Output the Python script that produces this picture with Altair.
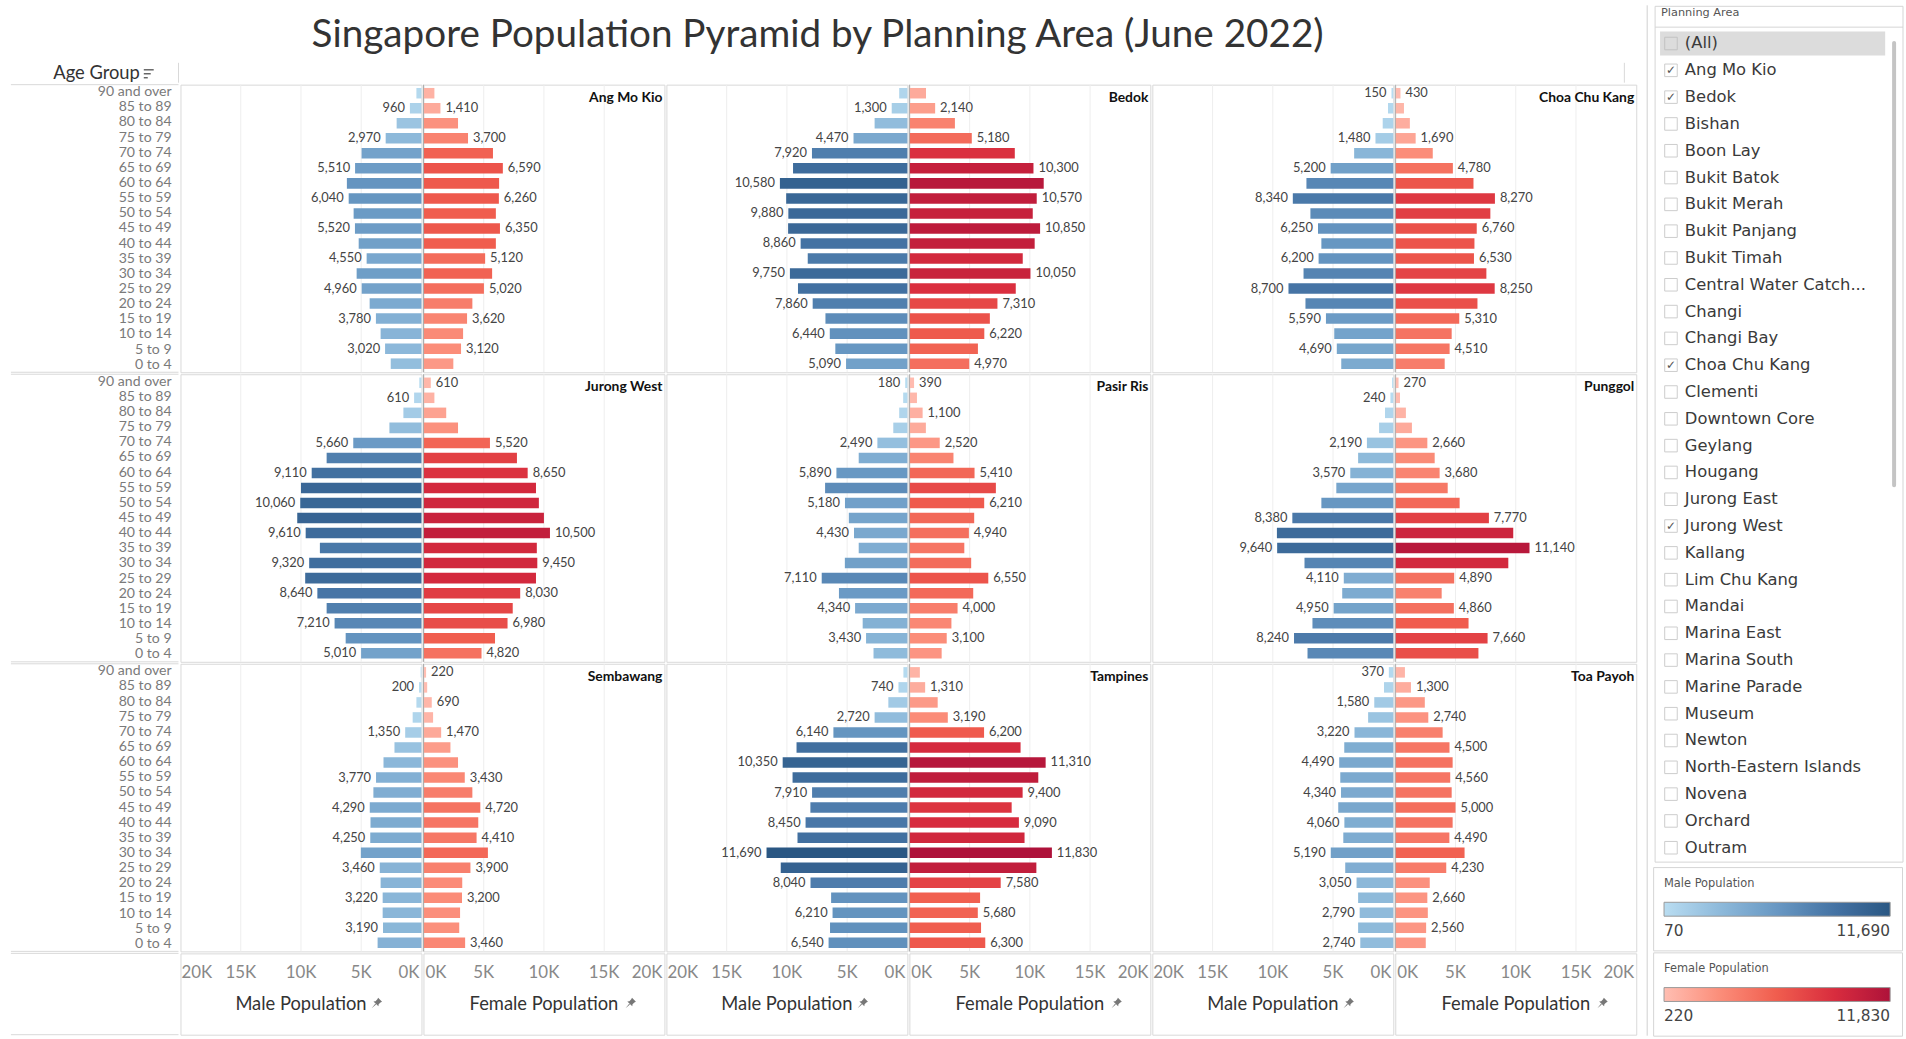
import altair as alt
import pandas as pd

TITLE = "Singapore Population Pyramid by Planning Area (June 2022)"

AGES = ["90 and over", "85 to 89", "80 to 84", "75 to 79", "70 to 74",
        "65 to 69", "60 to 64", "55 to 59", "50 to 54", "45 to 49",
        "40 to 44", "35 to 39", "30 to 34", "25 to 29", "20 to 24",
        "15 to 19", "10 to 14", "5 to 9", "0 to 4"]

AREAS = ["Ang Mo Kio", "Bedok", "Choa Chu Kang",
         "Jurong West", "Pasir Ris", "Punggol",
         "Sembawang", "Tampines", "Toa Payoh"]

# residents per age group, from "90 and over" down to "0 to 4"
ANG_MO_KIO_M = [420, 960, 2060, 2970, 4970, 5510, 6190, 6040, 5630, 5520, 5210, 4550, 5380, 4960, 4300, 3780, 3390, 3020, 2550]
ANG_MO_KIO_F = [910, 1410, 2870, 3700, 5770, 6590, 6280, 6260, 6010, 6350, 6010, 5120, 5700, 5020, 4060, 3620, 3290, 3120, 2480]
BEDOK_M = [680, 1300, 2720, 4470, 7920, 9490, 10580, 10060, 9880, 9900, 8860, 8270, 9750, 9080, 7860, 6800, 6440, 5980, 5090]
BEDOK_F = [1380, 2140, 3780, 5180, 8750, 10300, 11150, 10570, 10240, 10850, 10400, 9410, 10050, 8830, 7310, 6680, 6220, 5690, 4970]
CHOA_CHU_KANG_M = [150, 440, 880, 1480, 3250, 5200, 7210, 8340, 6880, 6250, 5970, 6200, 7450, 8700, 7290, 5590, 4900, 4690, 4320]
CHOA_CHU_KANG_F = [430, 720, 1210, 1690, 3110, 4780, 6490, 8270, 7890, 6760, 6570, 6530, 7560, 8250, 6820, 5310, 4680, 4510, 4100]
JURONG_WEST_M = [180, 610, 1500, 2660, 5660, 7870, 9110, 10000, 10060, 10310, 9610, 8430, 9320, 9650, 8640, 7870, 7210, 6290, 5010]
JURONG_WEST_F = [610, 910, 1890, 2870, 5520, 7760, 8650, 9340, 9580, 10000, 10500, 9410, 9450, 9340, 8030, 7410, 6980, 5940, 4820]
PASIR_RIS_M = [180, 350, 680, 1170, 2490, 4040, 5890, 6830, 5180, 4860, 4430, 4040, 5190, 7110, 5680, 4340, 3710, 3430, 2810]
PASIR_RIS_F = [390, 630, 1100, 1370, 2520, 3660, 5410, 7180, 6210, 5380, 4940, 4560, 5130, 6550, 5300, 4000, 3490, 3100, 2680]
PUNGGOL_M = [100, 240, 690, 1180, 2190, 2920, 3570, 4730, 5970, 8380, 9660, 9640, 7370, 4110, 4240, 4950, 6710, 8240, 7120]
PUNGGOL_F = [270, 390, 880, 1380, 2660, 3270, 3680, 4350, 5340, 7770, 9790, 11140, 9380, 4890, 3850, 4860, 6080, 7660, 6900]
SEMBAWANG_M = [70, 200, 420, 730, 1350, 2240, 3150, 3770, 3990, 4290, 4230, 4250, 5030, 3460, 3390, 3220, 3220, 3190, 3640]
SEMBAWANG_F = [220, 310, 690, 800, 1470, 2240, 2870, 3430, 4060, 4720, 4550, 4410, 5350, 3900, 3220, 3200, 3040, 2970, 3460]
TAMPINES_M = [330, 740, 1580, 2720, 6140, 9200, 10350, 9530, 7910, 8050, 8450, 9120, 11690, 10510, 8040, 6330, 6210, 6420, 6540]
TAMPINES_F = [870, 1310, 2350, 3190, 6200, 9230, 11310, 10700, 9400, 8490, 9090, 9560, 11830, 10540, 7580, 5870, 5680, 5950, 6300]
TOA_PAYOH_M = [370, 770, 1580, 2090, 3220, 4070, 4490, 4400, 4340, 4570, 4060, 4150, 5190, 3990, 3050, 2920, 2790, 2920, 2740]
TOA_PAYOH_F = [800, 1300, 2450, 2740, 3930, 4500, 4760, 4560, 4680, 5000, 4760, 4490, 5750, 4230, 2860, 2660, 2700, 2560, 2530]

# age groups (index into AGES) that carry a value label
ANG_MO_KIO_M_LAB = [1, 3, 5, 7, 9, 11, 13, 15, 17]
ANG_MO_KIO_F_LAB = [1, 3, 5, 7, 9, 11, 13, 15, 17]
BEDOK_M_LAB = [1, 3, 4, 6, 8, 10, 12, 14, 16, 18]
BEDOK_F_LAB = [1, 3, 5, 7, 9, 12, 14, 16, 18]
CHOA_CHU_KANG_M_LAB = [0, 3, 5, 7, 9, 11, 13, 15, 17]
CHOA_CHU_KANG_F_LAB = [0, 3, 5, 7, 9, 11, 13, 15, 17]
JURONG_WEST_M_LAB = [1, 4, 6, 8, 10, 12, 14, 16, 18]
JURONG_WEST_F_LAB = [0, 4, 6, 10, 12, 14, 16, 18]
PASIR_RIS_M_LAB = [0, 4, 6, 8, 10, 13, 15, 17]
PASIR_RIS_F_LAB = [0, 2, 4, 6, 8, 10, 13, 15, 17]
PUNGGOL_M_LAB = [1, 4, 6, 9, 11, 13, 15, 17]
PUNGGOL_F_LAB = [0, 4, 6, 9, 11, 13, 15, 17]
SEMBAWANG_M_LAB = [1, 4, 7, 9, 11, 13, 15, 17]
SEMBAWANG_F_LAB = [0, 2, 4, 7, 9, 11, 13, 15, 18]
TAMPINES_M_LAB = [1, 3, 4, 6, 8, 10, 12, 14, 16, 18]
TAMPINES_F_LAB = [1, 3, 4, 6, 8, 10, 12, 14, 16, 18]
TOA_PAYOH_M_LAB = [0, 2, 4, 6, 8, 10, 12, 14, 16, 18]
TOA_PAYOH_F_LAB = [1, 3, 5, 7, 9, 11, 13, 15, 17]

AXIS_TICKS = [0, 5000, 10000, 15000, 20000]
AXIS_LABELS = ["0K", "5K", "10K", "15K", "20K"]
GRID_TICKS = [5000, 10000, 15000]

MALE_RANGE = [70, 11690]
FEMALE_RANGE = [220, 11830]
MALE_COLORS = ["#b9ddf1", "#8db9da", "#6898c3", "#4573a4", "#2a5783"]
FEMALE_COLORS = ["#ffbeb2", "#fb8d79", "#f05d4e", "#d92d3e", "#ae123a"]

FILTER_ITEMS = ["(All)", "Ang Mo Kio", "Bedok", "Bishan", "Boon Lay", "Bukit Batok",
                "Bukit Merah", "Bukit Panjang", "Bukit Timah", "Central Water Catch...",
                "Changi", "Changi Bay", "Choa Chu Kang", "Clementi", "Downtown Core",
                "Geylang", "Hougang", "Jurong East", "Jurong West", "Kallang",
                "Lim Chu Kang", "Mandai", "Marina East", "Marina South", "Marine Parade",
                "Museum", "Newton", "North-Eastern Islands", "Novena", "Orchard", "Outram"]
FILTER_CHECKED = ["Ang Mo Kio", "Bedok", "Choa Chu Kang", "Jurong West"]

MALE = {"Ang Mo Kio": (ANG_MO_KIO_M, ANG_MO_KIO_M_LAB), "Bedok": (BEDOK_M, BEDOK_M_LAB),
        "Choa Chu Kang": (CHOA_CHU_KANG_M, CHOA_CHU_KANG_M_LAB), "Jurong West": (JURONG_WEST_M, JURONG_WEST_M_LAB),
        "Pasir Ris": (PASIR_RIS_M, PASIR_RIS_M_LAB), "Punggol": (PUNGGOL_M, PUNGGOL_M_LAB),
        "Sembawang": (SEMBAWANG_M, SEMBAWANG_M_LAB), "Tampines": (TAMPINES_M, TAMPINES_M_LAB),
        "Toa Payoh": (TOA_PAYOH_M, TOA_PAYOH_M_LAB)}
FEMALE = {"Ang Mo Kio": (ANG_MO_KIO_F, ANG_MO_KIO_F_LAB), "Bedok": (BEDOK_F, BEDOK_F_LAB),
          "Choa Chu Kang": (CHOA_CHU_KANG_F, CHOA_CHU_KANG_F_LAB), "Jurong West": (JURONG_WEST_F, JURONG_WEST_F_LAB),
          "Pasir Ris": (PASIR_RIS_F, PASIR_RIS_F_LAB), "Punggol": (PUNGGOL_F, PUNGGOL_F_LAB),
          "Sembawang": (SEMBAWANG_F, SEMBAWANG_F_LAB), "Tampines": (TAMPINES_F, TAMPINES_F_LAB),
          "Toa Payoh": (TOA_PAYOH_F, TOA_PAYOH_F_LAB)}

# ---------------- layout / style ----------------
W, H = 243, 290
LAB_W = 169
AX_H = 82
HEAD_H = 78
HEAD_W = LAB_W + 6 * W
SIDE_W, SIDE_H = 263, 1039
FONT = "Lato"
UI_FONT = "DejaVu Sans"
LINE = "#d9d9d9"
ONE = pd.DataFrame({"k": [0]})
PIN = ("M0.25,-1 L1,-0.25 L0.7,-0.1 L0.35,0.25 L0.3,0.65 L-0.65,-0.3 "
       "L-0.25,-0.35 L0.1,-0.7 Z M-0.15,0.3 L-1,1 L-0.3,0.15 Z")


def stops(lo, hi, n):
    return [lo + (hi - lo) * i / (n - 1) for i in range(n)]


MALE_SCALE = alt.Scale(domain=stops(MALE_RANGE[0], MALE_RANGE[1], len(MALE_COLORS)),
                       range=MALE_COLORS, interpolate="rgb")
FEMALE_SCALE = alt.Scale(domain=stops(FEMALE_RANGE[0], FEMALE_RANGE[1], len(FEMALE_COLORS)),
                         range=FEMALE_COLORS, interpolate="rgb")


def legend(title, vals, ly):
    return alt.Legend(title=title, orient="none", legendX=1656, legendY=ly,
                      direction="horizontal", gradientLength=228, gradientThickness=14,
                      values=vals, labelExpr="format(datum.value, ',')",
                      titleFont=UI_FONT, titleFontSize=11.5,
                      titleFontWeight="normal", titleColor="#555", labelFont=UI_FONT,
                      labelFontSize=15.5, labelColor="#444", padding=11,
                      strokeColor="#d4d4d4", fillColor="white", titlePadding=13,
                      labelOffset=8, gradientStrokeColor="#999", gradientStrokeWidth=1)


MALE_LEGEND = legend("Male Population", MALE_RANGE, 869)
FEMALE_LEGEND = legend("Female Population", FEMALE_RANGE, 955)


def y_enc():
    return alt.Y("age:N", sort=AGES, axis=None,
                 scale=alt.Scale(paddingInner=0.3, paddingOuter=0.22))


def x_scale(male):
    return alt.Scale(domain=[0, 20000], reverse=male, nice=False)


def pane(area, male):
    values, labs = (MALE if male else FEMALE)[area]
    xs = x_scale(male)
    df = pd.DataFrame({"age": AGES, "value": values})
    lab_df = df.iloc[labs]
    grid = alt.Chart(pd.DataFrame({"g": GRID_TICKS})).mark_rule(color="#eeeeee").encode(
        x=alt.X("g:Q", scale=xs, axis=None))
    if male:
        bars = alt.Chart(df).mark_bar().encode(
            x=alt.X("value:Q", scale=xs, axis=None), y=y_enc(),
            color=alt.Color("value:Q", scale=MALE_SCALE, legend=MALE_LEGEND))
    else:
        bars = alt.Chart(df).mark_bar().encode(
            x=alt.X("value:Q", scale=xs, axis=None), y=y_enc(),
            fill=alt.Fill("value:Q", scale=FEMALE_SCALE, legend=FEMALE_LEGEND))
    txt = alt.Chart(lab_df).mark_text(
        align="right" if male else "left", dx=-5 if male else 5, baseline="middle",
        font=FONT, fontSize=13, color="#444").encode(
        x=alt.X("value:Q", scale=xs, axis=None), y=y_enc(),
        text=alt.Text("value:Q", format=","))
    layers = [grid, bars, txt]
    if not male:
        zero = alt.Chart(pd.DataFrame({"z": [0]})).mark_rule(color="#a9a9a9").encode(
            x=alt.X("z:Q", scale=xs, axis=None))
        name = alt.Chart(pd.DataFrame({"name": [area]})).mark_text(
            align="right", baseline="middle", font=FONT, fontSize=14, fontWeight="bold",
            color="#111").encode(x=alt.value(W - 2), y=alt.value(13), text="name:N")
        layers += [zero, name]
    return alt.layer(*layers).properties(width=W, height=H,
                                         view=alt.ViewBackground(stroke=LINE))


def hrule(y, x0=0, x1=LAB_W):
    return alt.Chart(ONE).mark_rule(color=LINE).encode(
        x=alt.value(x0), x2=alt.value(x1), y=alt.value(y))


def label_cell():
    txt = alt.Chart(pd.DataFrame({"age": AGES})).mark_text(
        align="right", baseline="middle", font=FONT, fontSize=14.2, color="#7a7a7a").encode(
        x=alt.value(LAB_W - 7), y=y_enc(), text="age:N")
    return alt.layer(txt, hrule(0), hrule(H)).properties(width=LAB_W, height=H)


def axis_cell(male):
    xs = x_scale(male)
    ticks = pd.DataFrame({"v": AXIS_TICKS, "lab": AXIS_LABELS})
    style = dict(baseline="middle", font=FONT, fontSize=17, color="#888")
    mid = alt.Chart(ticks.iloc[1:4]).mark_text(align="center", **style).encode(
        x=alt.X("v:Q", scale=xs, axis=None), y=alt.value(20), text="lab:N")
    lo = alt.Chart(ticks.iloc[[0]]).mark_text(
        align="right" if male else "left", dx=-2 if male else 2, **style).encode(
        x=alt.X("v:Q", scale=xs, axis=None), y=alt.value(20), text="lab:N")
    hi = alt.Chart(ticks.iloc[[4]]).mark_text(
        align="left" if male else "right", dx=1 if male else -2, **style).encode(
        x=alt.X("v:Q", scale=xs, axis=None), y=alt.value(20), text="lab:N")
    title = alt.Chart(pd.DataFrame({"t": ["Male Population" if male else "Female Population"]})).mark_text(
        align="center", baseline="middle", font=FONT, fontSize=18.5, color="#333").encode(
        x=alt.value(W / 2), y=alt.value(51), text="t:N")
    pin = alt.Chart(ONE).mark_point(shape=PIN, size=110, filled=True, color="#777",
                                    opacity=1).encode(
        x=alt.value(198 if male else 209), y=alt.value(50))
    return alt.layer(mid, lo, hi, title, pin).properties(
        width=W, height=AX_H, view=alt.ViewBackground(stroke=LINE))


def axis_label_cell():
    return alt.layer(hrule(0), hrule(AX_H)).properties(width=LAB_W, height=AX_H)


def header():
    title = alt.Chart(pd.DataFrame({"t": [TITLE]})).mark_text(
        align="center", baseline="middle", font=FONT, fontSize=39, color="#333").encode(
        x=alt.value(HEAD_W / 2), y=alt.value(30), text="t:N")
    age = alt.Chart(pd.DataFrame({"t": ["Age Group"]})).mark_text(
        align="right", baseline="middle", font=FONT, fontSize=18.5, color="#333").encode(
        x=alt.value(130), y=alt.value(68), text="t:N")
    icon = [alt.Chart(ONE).mark_rule(color="#666", strokeWidth=1.5).encode(
        x=alt.value(134), x2=alt.value(134 + ln), y=alt.value(yy))
        for ln, yy in [(10, 65), (7, 69), (4, 73)]]
    vlines = [alt.Chart(ONE).mark_rule(color=LINE).encode(
        x=alt.value(xx), y=alt.value(58), y2=alt.value(HEAD_H)) for xx in [LAB_W, HEAD_W]]
    return alt.layer(title, age, *icon, *vlines).properties(width=HEAD_W, height=HEAD_H)


def sidebar():
    items = pd.DataFrame({"item": FILTER_ITEMS})
    ys = alt.Y("item:N", sort=FILTER_ITEMS, axis=None,
               scale=alt.Scale(domain=FILTER_ITEMS, range=[25, 863],
                               paddingInner=0.1, paddingOuter=0.05))
    border = alt.Chart(ONE).mark_rule(color="#cfcfcf").encode(
        x=alt.value(3), y=alt.value(0), y2=alt.value(SIDE_H))
    box = alt.Chart(ONE).mark_rect(fill="white", stroke="#d4d4d4").encode(
        x=alt.value(11), x2=alt.value(261), y=alt.value(1), y2=alt.value(864))
    box_line = alt.Chart(ONE).mark_rule(color="#d4d4d4").encode(
        x=alt.value(11), x2=alt.value(261), y=alt.value(22))
    head = alt.Chart(pd.DataFrame({"t": ["Planning Area"]})).mark_text(
        align="left", baseline="middle", font=UI_FONT, fontSize=11.4, color="#555").encode(
        x=alt.value(17), y=alt.value(8), text="t:N")
    hl = alt.Chart(items.iloc[[0]]).mark_rect(color="#dcdcdc").encode(
        x=alt.value(16), x2=alt.value(243), y=ys)
    scroll = alt.Chart(ONE).mark_rect(color="#c4c4c4", cornerRadius=2).encode(
        x=alt.value(250), x2=alt.value(254), y=alt.value(36), y2=alt.value(486))
    boxes = alt.Chart(items).mark_point(shape="square", size=160, filled=False,
                                        color="#b8b8b8", strokeWidth=1).encode(
        x=alt.value(27), y=ys)
    checks = alt.Chart(items[items["item"].isin(FILTER_CHECKED)]).mark_text(
        text="✓", font=UI_FONT, fontSize=12, color="#555", baseline="middle").encode(
        x=alt.value(27), y=ys)
    names = alt.Chart(items).mark_text(
        align="left", baseline="middle", font=UI_FONT, fontSize=16.5, color="#3a3a3a").encode(
        x=alt.value(41), y=ys, text="item:N")
    return alt.layer(border, box, box_line, head, hl, scroll, boxes, checks, names).properties(
        width=SIDE_W, height=SIDE_H)


rows = []
for r in range(3):
    cells = [label_cell()]
    for c in range(3):
        a = AREAS[r * 3 + c]
        cells += [pane(a, True), pane(a, False)]
    rows.append(alt.hconcat(*cells, spacing=0))

axis_row = alt.hconcat(axis_label_cell(), *[axis_cell(m) for _ in range(3) for m in (True, False)],
                       spacing=0)

left_part = alt.vconcat(header(), *rows, axis_row, spacing=0)

chart = alt.hconcat(left_part, sidebar(), spacing=6).properties(
    padding={"left": 10, "top": 0, "right": 0, "bottom": 0},
    background="white",
).configure_view(stroke="transparent")

chart.save("out.html", embed_options={"renderer": "svg", "actions": False})
